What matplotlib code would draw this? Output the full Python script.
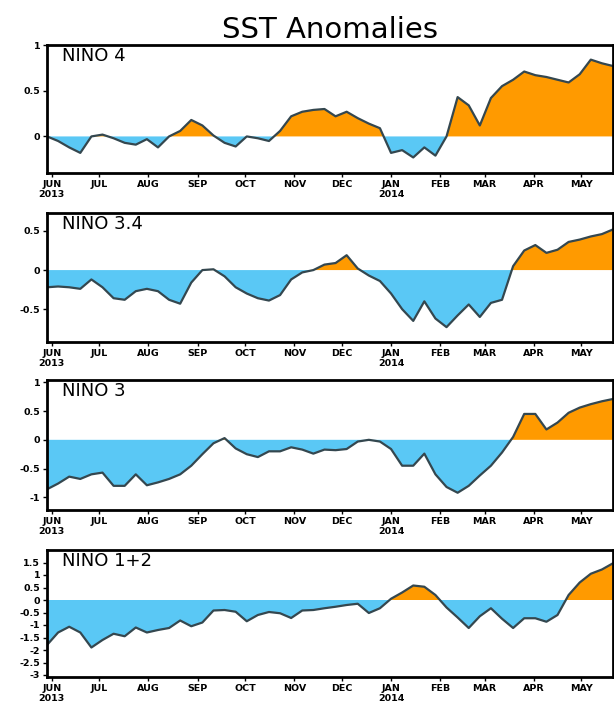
import datetime as dt

import matplotlib
matplotlib.use('Agg')
import matplotlib.pyplot as plt
import matplotlib.dates as mdates
import numpy as np

# weekly SST anomaly values (degC), weeks centred on Wednesdays
start_date = dt.date(2013, 5, 29)
n_weeks = 52

nino4 = [0.0, -0.05, -0.12, -0.18, 0.0, 0.02, -0.02, -0.07, -0.09, -0.03,
         -0.12, 0.0, 0.06, 0.18, 0.12, 0.01, -0.07, -0.11, 0.0, -0.02,
         -0.05, 0.06, 0.22, 0.27, 0.29, 0.30, 0.22, 0.27, 0.20, 0.14,
         0.09, -0.18, -0.15, -0.23, -0.12, -0.21, 0.0, 0.43, 0.34, 0.12,
         0.42, 0.55, 0.62, 0.71, 0.67, 0.65, 0.62, 0.59, 0.68, 0.84,
         0.80, 0.77]
nino34 = [-0.22, -0.21, -0.22, -0.24, -0.12, -0.22, -0.36, -0.38, -0.27, -0.24,
          -0.27, -0.38, -0.43, -0.16, 0.0, 0.01, -0.08, -0.22, -0.30, -0.36,
          -0.39, -0.32, -0.12, -0.03, 0.0, 0.07, 0.09, 0.19, 0.02, -0.07,
          -0.14, -0.30, -0.50, -0.65, -0.40, -0.62, -0.73, -0.58, -0.44, -0.60,
          -0.42, -0.38, 0.05, 0.25, 0.32, 0.22, 0.26, 0.36, 0.39, 0.43,
          0.46, 0.52]
nino3 = [-0.86, -0.76, -0.64, -0.68, -0.60, -0.57, -0.80, -0.80, -0.60, -0.79,
         -0.74, -0.68, -0.60, -0.45, -0.25, -0.06, 0.03, -0.15, -0.25, -0.30,
         -0.20, -0.20, -0.13, -0.17, -0.24, -0.17, -0.18, -0.16, -0.03, 0.0,
         -0.03, -0.16, -0.45, -0.45, -0.24, -0.60, -0.82, -0.92, -0.80, -0.62,
         -0.45, -0.22, 0.05, 0.45, 0.45, 0.18, 0.30, 0.47, 0.56, 0.62,
         0.67, 0.71]
nino12 = [-1.80, -1.30, -1.07, -1.30, -1.90, -1.60, -1.35, -1.45, -1.10, -1.30,
          -1.20, -1.12, -0.82, -1.05, -0.90, -0.42, -0.40, -0.47, -0.85, -0.60,
          -0.48, -0.53, -0.72, -0.42, -0.40, -0.33, -0.27, -0.20, -0.15, -0.52,
          -0.33, 0.05, 0.30, 0.58, 0.53, 0.20, -0.30, -0.70, -1.12, -0.65,
          -0.33, -0.75, -1.12, -0.73, -0.73, -0.87, -0.60, 0.20, 0.70, 1.05,
          1.22, 1.47]

region_names = ['NINO 4', 'NINO 3.4', 'NINO 3', 'NINO 1+2']
series = [nino4, nino34, nino3, nino12]
ylims = [(-0.4, 1.0), (-0.92, 0.73), (-1.22, 1.04), (-3.08, 2.0)]
yticks = [[0, 0.5, 1], [-0.5, 0, 0.5], [-1, -0.5, 0, 0.5, 1],
          [-3, -2.5, -2, -1.5, -1, -0.5, 0, 0.5, 1, 1.5]]
# axes boxes in pixels: top, bottom
boxes = [(45, 173), (213, 342), (380, 510), (550, 677)]

month_ticks = [dt.date(2013, m, 1) for m in range(6, 13)] + \
    [dt.date(2014, m, 1) for m in range(1, 6)]
month_labels = ['JUN\n2013', 'JUL', 'AUG', 'SEP', 'OCT', 'NOV', 'DEC',
                'JAN\n2014', 'FEB', 'MAR', 'APR', 'MAY']

ORANGE = '#FF9A00'
BLUE = '#5AC8F5'
LINE = '#34474F'

dates = [start_date + dt.timedelta(days=7 * i) for i in range(n_weeks)]
x = mdates.date2num(dates)

W, H = 614, 711
fig = plt.figure(figsize=(W / 100, H / 100), dpi=100)
fig.text(330 / W, 1 - 30 / H, 'SST Anomalies', ha='center', va='center',
         fontsize=21)

for name, vals, ylim, yt, (top, bot) in zip(region_names, series, ylims,
                                            yticks, boxes):
    left, right = 47, 613
    ax = fig.add_axes([left / W, 1 - bot / H, (right - left) / W, (bot - top) / H])
    y = np.array(vals)
    ax.fill_between(x, y, 0, where=y >= 0, interpolate=True, color=ORANGE,
                    linewidth=0)
    ax.fill_between(x, y, 0, where=y <= 0, interpolate=True, color=BLUE,
                    linewidth=0)
    ax.plot(x, y, color=LINE, linewidth=1.6)
    ax.set_xlim(x[0], x[-1])
    ax.set_ylim(*ylim)
    ax.set_yticks(yt)
    ax.set_yticklabels(['%g' % v for v in yt])
    ax.set_xticks(mdates.date2num(month_ticks))
    ax.set_xticklabels(month_labels)
    ax.tick_params(axis='both', direction='out', length=3, width=1,
                   labelsize=6.8, pad=2)
    for lab in ax.get_xticklabels() + ax.get_yticklabels():
        lab.set_fontweight('bold')
    for sp in ax.spines.values():
        sp.set_linewidth(2)
    ax.text(0.027, 0.985, name, transform=ax.transAxes, ha='left', va='top',
            fontsize=13)

fig.savefig('out.png', dpi=100)
